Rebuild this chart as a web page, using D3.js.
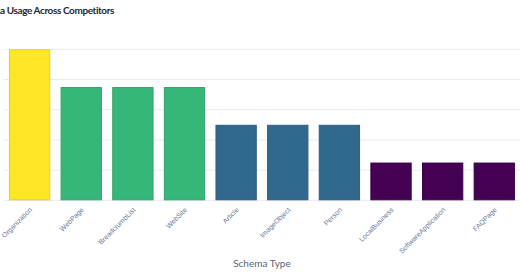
<!DOCTYPE html>
<html>
<head>
<meta charset="utf-8">
<script src="https://cdn.jsdelivr.net/npm/d3@7"></script>
<style>
  body { margin: 0; background: #fff; }
  svg { display: block; font-family: "Lato", "Noto Sans", sans-serif; }
</style>
</head>
<body>
<div id="chart"></div>
<script>
// schema types, sorted by share of competitors using them
const schemaTypes = [
  `Organization`, `WebPage`, `BreadcrumbList`, `WebSite`, `Article`,
  `ImageObject`, `Person`, `LocalBusiness`, `SoftwareApplication`, `FAQPage`,
];
const usagePct = [100, 75, 75, 75, 50, 50, 50, 25, 25, 25];
const yTicks = [0, 20, 40, 60, 80, 100];

const width = 520;
const height = 272;
const margin = { top: 49.3, right: -0.1, bottom: 71.7, left: 3.8 };

const data = schemaTypes.map((name, i) => ({ name, value: usagePct[i] }));

const svg = d3
  .select(`#chart`)
  .append(`svg`)
  .attr(`width`, width)
  .attr(`height`, height);

const xScale = d3.scaleBand()
  .domain(schemaTypes)
  .range([margin.left, width - margin.right])
  .paddingInner(0.2)
  .paddingOuter(0.1);

const yScale = d3.scaleLinear()
  .domain([0, 100])
  .range([height - margin.bottom, margin.top]);

const color = d3.scaleSequential(d3.interpolateViridis).domain([25, 100]);

// gridlines
svg.append(`g`)
  .selectAll(`line`)
  .data(yTicks)
  .enter()
  .append(`line`)
  .attr(`x1`, margin.left)
  .attr(`x2`, width)
  .attr(`y1`, (d) => yScale(d))
  .attr(`y2`, (d) => yScale(d))
  .attr(`stroke`, `#e8eaf0`)
  .attr(`stroke-width`, 1);

// bars
svg.append(`g`)
  .selectAll(`rect`)
  .data(data)
  .enter()
  .append(`rect`)
  .attr(`x`, (d) => xScale(d.name) + 0.5)
  .attr(`y`, (d) => yScale(d.value) + 0.5)
  .attr(`width`, xScale.bandwidth() - 1)
  .attr(`height`, (d) => yScale(0) - yScale(d.value) - 1)
  .attr(`fill`, (d) => color(d.value))
  .attr(`stroke`, (d) => d3.color(color(d.value)).darker(0.3))
  .attr(`stroke-width`, 1);

// x axis labels, rotated
const xAxis = svg.append(`g`)
  .attr(`transform`, `translate(0, ${yScale(0)})`)
  .call(d3.axisBottom(xScale).tickSize(0).tickPadding(0));
xAxis.select(`.domain`).remove();
xAxis.selectAll(`text`)
  .attr(`font-size`, `7px`)
  .attr(`fill`, `#6b7794`)
  .attr(`text-anchor`, `end`)
  .attr(`dy`, null)
  .attr(`y`, 0)
  .attr(`transform`, `translate(3, 10) rotate(-45)`);

// axis title
svg.append(`text`)
  .attr(`x`, (margin.left + width - margin.right) / 2)
  .attr(`y`, 267)
  .attr(`text-anchor`, `middle`)
  .attr(`font-size`, `10px`)
  .attr(`fill`, `#5b6474`)
  .text(`Schema Type`);

// chart title: the view starts inside the word "Schema",
// so shift it left by the width of "Schem"
const title = svg.append(`text`)
  .attr(`x`, 0)
  .attr(`y`, 14)
  .attr(`font-size`, `10px`)
  .attr(`letter-spacing`, `-0.4px`)
  .attr(`font-weight`, `bold`)
  .attr(`fill`, `#262730`)
  .text(`Schema Usage Across Competitors`);
const hidden = title.node().getSubStringLength(0, 5);
title.attr(`x`, -hidden);
</script>
</body>
</html>
